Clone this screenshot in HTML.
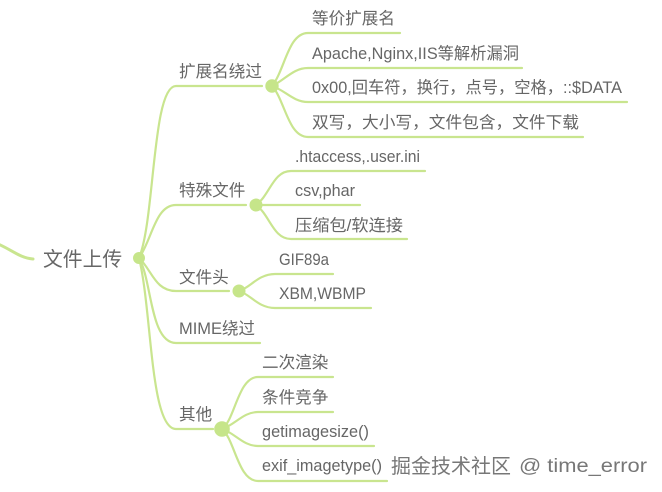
<!DOCTYPE html>
<html><head><meta charset="utf-8">
<style>
html,body{margin:0;padding:0;background:#fff;width:662px;height:492px;overflow:hidden}
svg{display:block}
text{font-family:"Liberation Sans","Noto Sans CJK SC",sans-serif;fill:#666;font-size:16.6px}
path{fill:none;stroke:#c9e58f;stroke-width:2.2;stroke-linecap:round}
circle{fill:#c6e58a}
</style></head><body>
<svg width="662" height="492" viewBox="0 0 662 492" xmlns="http://www.w3.org/2000/svg">
<path d="M-2 244C12 250 20 258 33 259" style="stroke-width:3"/>
<path d="M139 258C155 220 152 86 176 86H262"/>
<path d="M139 258C152 240 155 205 176 205H246"/>
<path d="M139 258C152 270 155 291 176 291H229"/>
<path d="M139 258C152 280 150 343 176 343H260"/>
<path d="M139 258C152 310 150 429 176 429H213"/>
<path d="M272 86C285 70 288 33 308 33H400"/>
<path d="M272 86C285 80 293 68 308 68H522"/>
<path d="M272 86C285 90 293 102 308 102H627"/>
<path d="M272 86C285 100 288 137 308 137H583"/>
<path d="M256 205C270 195 273 171 291 171H425"/>
<path d="M256 205H360"/>
<path d="M256 205C270 215 273 239 291 239H407"/>
<path d="M239 291C250 288 258 274 275 274H333"/>
<path d="M239 291C250 294 258 308 275 308H371"/>
<path d="M222 429C235 420 238 377 258 377H333"/>
<path d="M222 429C235 425 243 412 258 412H333"/>
<path d="M222 429C235 433 243 446 258 446H374"/>
<path d="M222 429C235 440 238 481 258 481H387"/>
<circle cx="139" cy="258" r="6"/>
<circle cx="272" cy="86" r="6.7"/>
<circle cx="256" cy="205" r="6.5"/>
<circle cx="239" cy="291" r="6.5"/>
<circle cx="222" cy="429" r="7.8"/>
<text x="43" y="266" style="font-size:19.8px">文件上传</text>
<text x="179" y="77">扩展名绕过</text>
<text x="179" y="196">特殊文件</text>
<text x="179" y="283">文件头</text>
<text x="179" y="334" textLength="76" lengthAdjust="spacingAndGlyphs">MIME绕过</text>
<text x="179" y="420">其他</text>
<text x="312" y="24">等价扩展名</text>
<text x="312" y="59" textLength="207" lengthAdjust="spacingAndGlyphs">Apache,Nginx,IIS等解析漏洞</text>
<text x="312" y="93" textLength="310" lengthAdjust="spacingAndGlyphs">0x00,回车符，换行，点号，空格，::$DATA</text>
<text x="312" y="128" textLength="267" lengthAdjust="spacingAndGlyphs">双写，大小写，文件包含，文件下载</text>
<text x="295" y="162" textLength="125" lengthAdjust="spacingAndGlyphs">.htaccess,.user.ini</text>
<text x="295" y="196" textLength="60" lengthAdjust="spacingAndGlyphs">csv,phar</text>
<text x="295" y="231" textLength="108" lengthAdjust="spacingAndGlyphs">压缩包/软连接</text>
<text x="279" y="265" textLength="50" lengthAdjust="spacingAndGlyphs">GIF89a</text>
<text x="279" y="299" textLength="87" lengthAdjust="spacingAndGlyphs">XBM,WBMP</text>
<text x="262" y="368">二次渲染</text>
<text x="262" y="403">条件竞争</text>
<text x="262" y="437" textLength="107" lengthAdjust="spacingAndGlyphs">getimagesize()</text>
<text x="262" y="471" textLength="120" lengthAdjust="spacingAndGlyphs">exif_imagetype()</text>
<text x="391" y="473" textLength="120" lengthAdjust="spacingAndGlyphs" style="font-size:20px;fill:#777">掘金技术社区</text>
<text x="519" y="472" textLength="128" lengthAdjust="spacingAndGlyphs" style="font-size:19.5px;fill:#777">@ time_error</text>
</svg>
</body></html>
